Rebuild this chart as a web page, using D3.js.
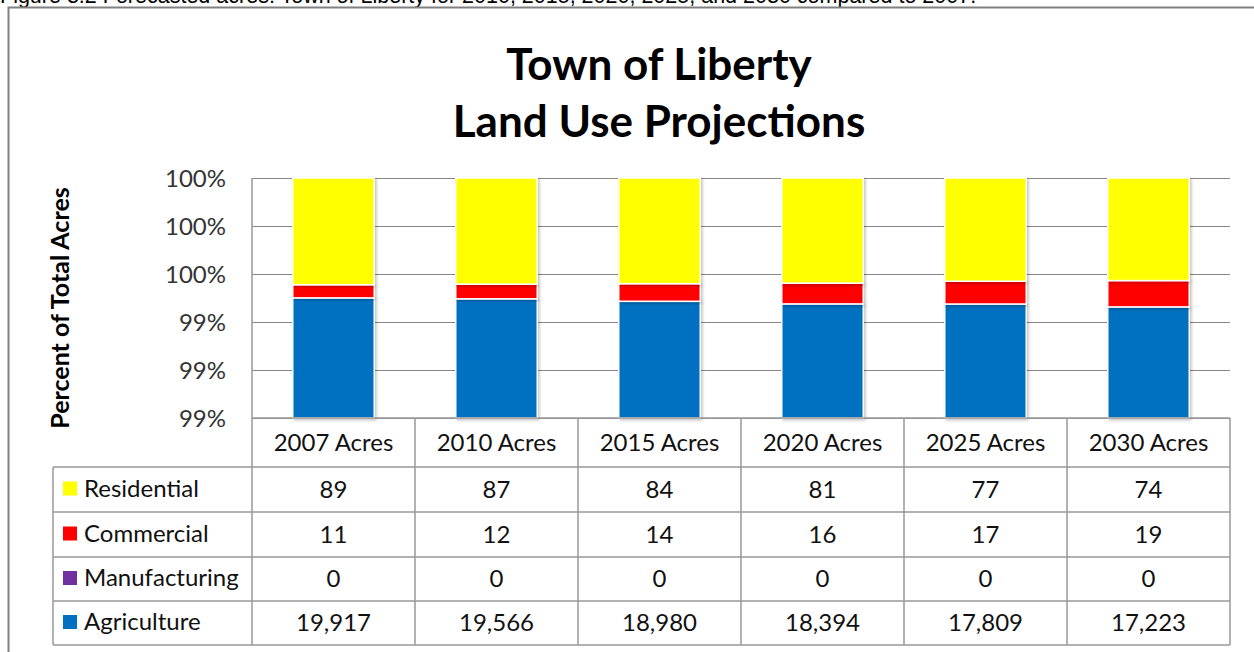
<!DOCTYPE html>
<html>
<head>
<meta charset="utf-8">
<script src="https://cdn.jsdelivr.net/npm/d3@7/dist/d3.min.js"></script>
<style>
  html, body { margin: 0; padding: 0; background: #fff; }
  svg { display: block; }
  text { font-family: Lato, "Open Sans", sans-serif; }
</style>
</head>
<body>
<div id="chart"></div>
<script>
// Stacked 100% bars (axis zoomed to 99–100%) with a data table underneath.
const years = ["2007 Acres", "2010 Acres", "2015 Acres", "2020 Acres", "2025 Acres", "2030 Acres"];
const seriesNames = ["Residential", "Commercial", "Manufacturing", "Agriculture"];
const residential = [89, 87, 84, 81, 77, 74];
const commercial = [11, 12, 14, 16, 17, 19];
const manufacturing = [0, 0, 0, 0, 0, 0];
const agriculture = [19917, 19566, 18980, 18394, 17809, 17223];
const colors = { Residential: "#FFFF00", Commercial: "#FF0000", Manufacturing: "#7030A0", Agriculture: "#0070C0" };
const yDomain = [0.99, 1];

const W = 1254, H = 652;
const m = { left: 252, right: 1230, top: 178, bottom: 418 };
const tableLeft = 53;
const rowLines = [418, 467, 512, 557, 601, 645];

const values = { Residential: residential, Commercial: commercial, Manufacturing: manufacturing, Agriculture: agriculture };
const rows = years.map((yr, i) => {
  const r = { year: yr };
  for (const s of seriesNames) r[s] = values[s][i];
  return r;
});

const svg = d3.select("#chart").append("svg").attr("width", W).attr("height", H);

// Document caption, mostly cut off above the frame.
svg.append("text").attr("x", 0).attr("y", 3)
  .style("font-family", "'Liberation Sans', Arial, sans-serif").style("font-size", "21.5px").attr("fill", "#000")
  .text("Figure 3.2 Forecasted acres: Town of Liberty for 2010, 2015, 2020, 2025, and 2030 compared to 2007.");

// Chart frame (runs off the right/bottom edge).
svg.append("rect").attr("x", 8.5).attr("y", 7.5).attr("width", 1300).attr("height", 700)
  .attr("fill", "#fff").attr("stroke", "#808080").attr("stroke-width", 2);

const defs = svg.append("defs");
const shadow = defs.append("filter").attr("id", "shadow").attr("x", "-10%").attr("y", "-10%").attr("width", "130%").attr("height", "130%");
shadow.append("feDropShadow").attr("dx", 1.5).attr("dy", 1.5).attr("stdDeviation", 1.5).attr("flood-color", "#000").attr("flood-opacity", 0.25);

// Title
const title = svg.append("text").attr("text-anchor", "middle").attr("font-weight", "bold")
  .style("font-size", "44px").attr("fill", "#000");
title.append("tspan").attr("x", 659).attr("y", 80).text("Town of Liberty");
title.append("tspan").attr("x", 659).attr("y", 137).text("Land Use Projections");

const x = d3.scaleBand(years, [m.left, m.right]).padding(0);
const y = d3.scaleLinear(yDomain, [m.bottom, m.top]).clamp(true);
const ticks = y.ticks(5);

// Gridlines
svg.append("g").selectAll("line").data(ticks).join("line")
  .attr("x1", m.left).attr("x2", m.right)
  .attr("y1", (d) => Math.round(y(d)) + 0.5).attr("y2", (d) => Math.round(y(d)) + 0.5)
  .attr("stroke", "#868686").attr("stroke-width", 1);

// Y tick labels
svg.append("g").selectAll("text").data(ticks).join("text")
  .attr("x", 226).attr("y", (d) => y(d) + 9)
  .attr("text-anchor", "end").style("font-size", "24px").attr("fill", "#333")
  .text(d3.format(".0%"));

svg.append("text").attr("text-anchor", "middle").attr("font-weight", "bold")
  .style("font-size", "25px").attr("fill", "#000")
  .attr("transform", `translate(69,${308}) rotate(-90)`)
  .text("Percent of Total Acres");

// Stacked bars, bottom-up: Agriculture, Manufacturing, Commercial, Residential
const stackOrder = ["Agriculture", "Manufacturing", "Commercial", "Residential"];
const stacked = d3.stack().keys(stackOrder).offset(d3.stackOffsetExpand)(rows);
const bw = x.bandwidth() * 0.5;
const bars = svg.append("g");
for (const layer of stacked) {
  bars.append("g").attr("fill", colors[layer.key])
    .selectAll("rect").data(layer).join("rect")
    .attr("x", (d) => x(d.data.year) + (x.bandwidth() - bw) / 2)
    .attr("width", bw)
    .attr("y", (d) => y(d[1]))
    .attr("height", (d) => Math.max(0, y(d[0]) - y(d[1])))
    .attr("stroke", "#fff").attr("stroke-width", 1.5)
    .attr("filter", "url(#shadow)");
}

// Data table
const grid = svg.append("g").attr("stroke", "#999").attr("stroke-width", 1.5);
grid.append("line").attr("x1", m.left).attr("x2", m.left).attr("y1", m.top).attr("y2", rowLines[rowLines.length - 1]);
rowLines.forEach((ly, i) => {
  grid.append("line").attr("x1", i === 0 ? m.left : tableLeft).attr("x2", m.right).attr("y1", ly).attr("y2", ly);
});
grid.append("line").attr("x1", tableLeft).attr("x2", tableLeft).attr("y1", rowLines[1]).attr("y2", rowLines[rowLines.length - 1]);
for (const yr of years) {
  const cx = x(yr) + x.bandwidth();
  grid.append("line").attr("x1", cx).attr("x2", cx).attr("y1", rowLines[0]).attr("y2", rowLines[rowLines.length - 1]);
}

// Column headers
svg.append("g").selectAll("text").data(years).join("text")
  .attr("x", (d) => x(d) + x.bandwidth() / 2).attr("y", (rowLines[0] + rowLines[1]) / 2 + 8)
  .attr("text-anchor", "middle").style("font-size", "24px").attr("fill", "#111")
  .text((d) => d);

const fmt = d3.format(",");
seriesNames.forEach((s, ri) => {
  const cy = (rowLines[ri + 1] + rowLines[ri + 2]) / 2;
  const g = svg.append("g");
  g.append("rect").attr("x", 63).attr("y", cy - 8).attr("width", 14).attr("height", 14).attr("fill", colors[s]);
  g.append("text").attr("x", 84).attr("y", cy + 7).style("font-size", "24px").attr("fill", "#111").text(s);
  g.selectAll("text.v").data(values[s]).join("text").attr("class", "v")
    .attr("x", (d, i) => x(years[i]) + x.bandwidth() / 2).attr("y", cy + 8)
    .attr("text-anchor", "middle").style("font-size", "24px").attr("fill", "#111")
    .text((d) => fmt(d));
});
</script>
</body>
</html>
